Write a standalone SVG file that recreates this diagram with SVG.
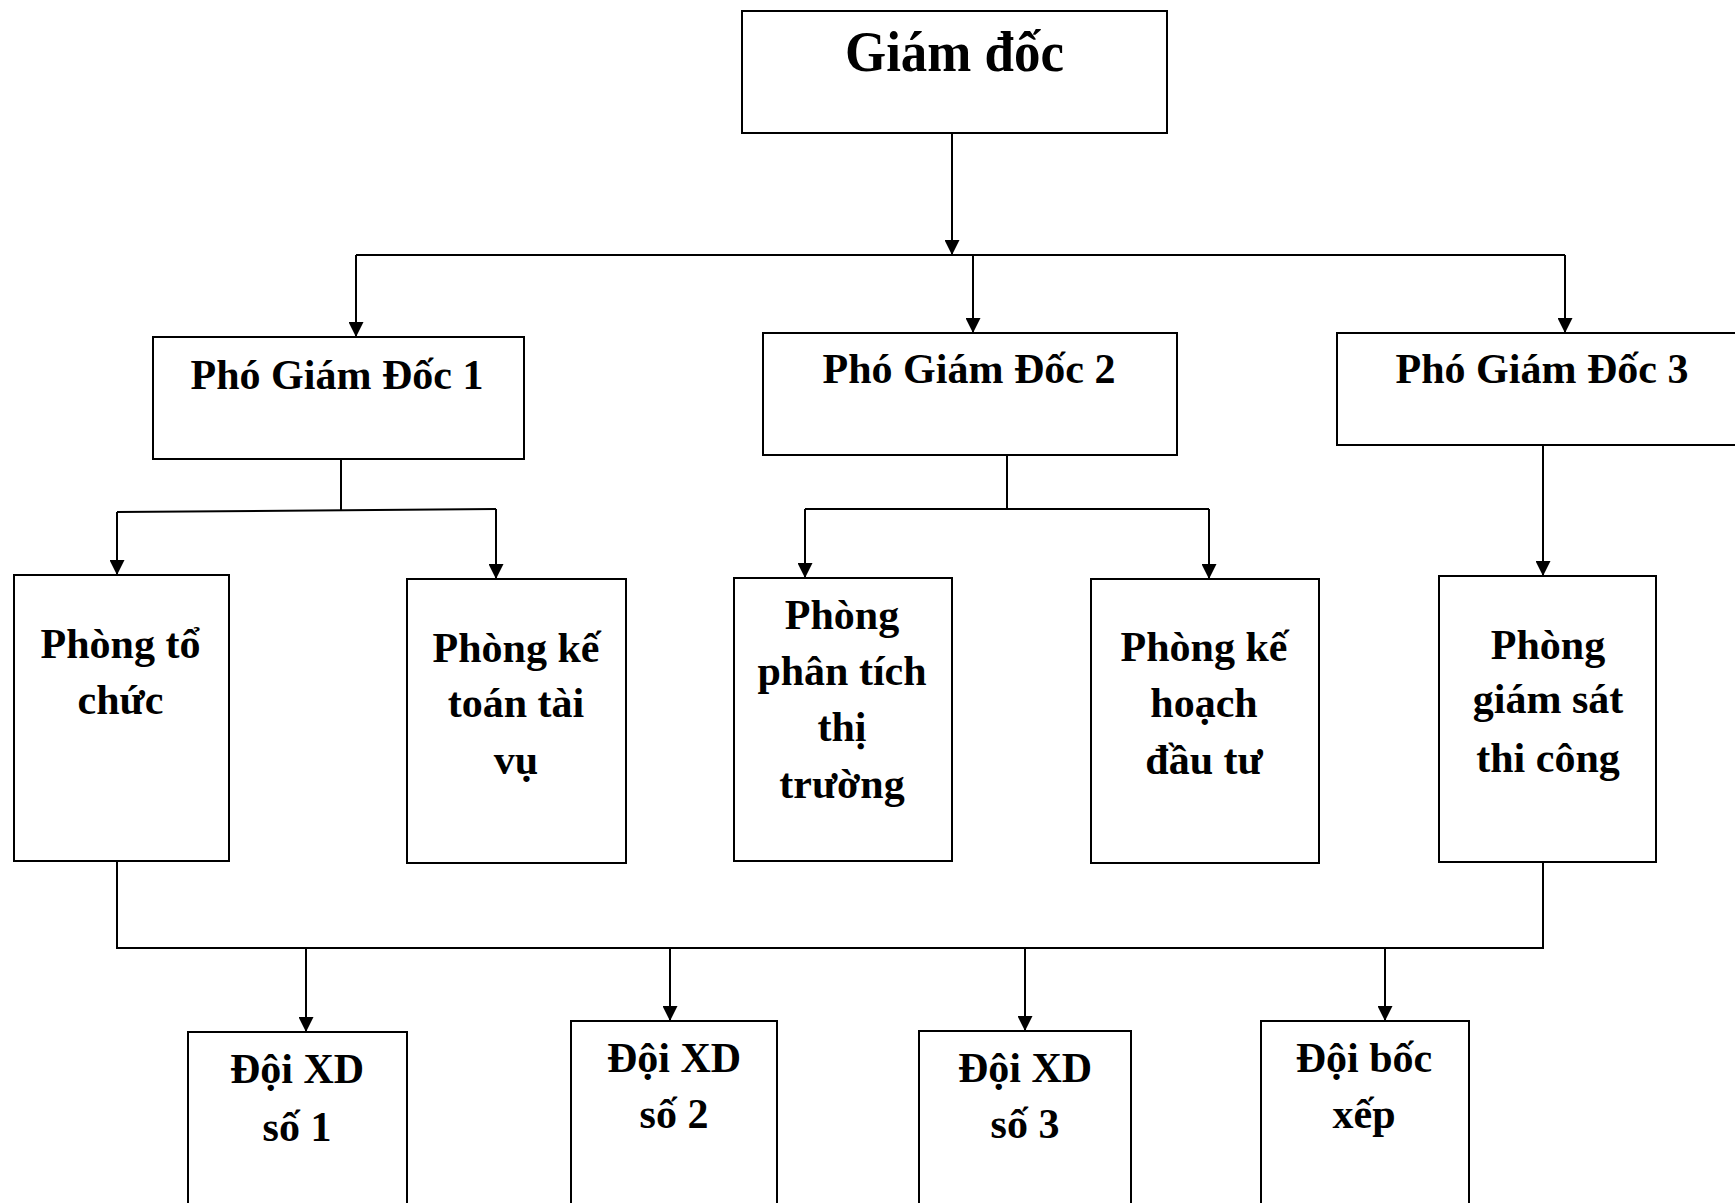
<svg xmlns="http://www.w3.org/2000/svg" width="1735" height="1203" viewBox="0 0 1735 1203">
<style>
.box{fill:#fff;stroke:#000;stroke-width:2}
.t{font-family:"Liberation Serif","Times New Roman",serif;font-weight:bold;font-size:42px;fill:#000;text-anchor:middle}
.c{fill:none;stroke:#000;stroke-width:2}
</style>
<defs>
<marker id="ah" markerUnits="userSpaceOnUse" markerWidth="15" markerHeight="15" refX="15" refY="7.5" orient="auto" viewBox="0 0 15 15">
<path d="M0,0 L15,7.5 L0,15 z" fill="#000"/>
</marker>
</defs>
<rect width="1735" height="1203" fill="#fff"/>
<g id="connectors">
<path class="c" d="M952,133 V255" marker-end="url(#ah)"/>
<path class="c" d="M356,255 H1565"/>
<path class="c" d="M356,255 V337" marker-end="url(#ah)"/>
<path class="c" d="M973,255 V333" marker-end="url(#ah)"/>
<path class="c" d="M1565,255 V333" marker-end="url(#ah)"/>
<path class="c" d="M341,459 V510"/>
<path class="c" d="M117,512 L496,509"/>
<path class="c" d="M117,512 V575" marker-end="url(#ah)"/>
<path class="c" d="M496,509 V579" marker-end="url(#ah)"/>
<path class="c" d="M1007,455 V509"/>
<path class="c" d="M805,509 H1209"/>
<path class="c" d="M805,509 V578" marker-end="url(#ah)"/>
<path class="c" d="M1209,509 V579" marker-end="url(#ah)"/>
<path class="c" d="M1543,445 V576" marker-end="url(#ah)"/>
<path class="c" d="M117,861 V948 H1543 V862"/>
<path class="c" d="M306,948 V1032" marker-end="url(#ah)"/>
<path class="c" d="M670,948 V1021" marker-end="url(#ah)"/>
<path class="c" d="M1025,948 V1031" marker-end="url(#ah)"/>
<path class="c" d="M1385,948 V1021" marker-end="url(#ah)"/>
</g>
<g id="giam-doc">
<rect class="box" x="742" y="11" width="425" height="122"/>
<text class="t" x="954.5" y="71" style="font-size:58px" textLength="219" lengthAdjust="spacingAndGlyphs">Giám đốc</text>
</g>
<g id="pgd1">
<rect class="box" x="153" y="337" width="371" height="122"/>
<text class="t" x="337" y="389">Phó Giám Đốc 1</text>
</g>
<g id="pgd2">
<rect class="box" x="763" y="333" width="414" height="122"/>
<text class="t" x="969" y="383">Phó Giám Đốc 2</text>
</g>
<g id="pgd3">
<rect class="box" x="1337" y="333" width="410" height="112"/>
<text class="t" x="1542" y="383">Phó Giám Đốc 3</text>
</g>
<g id="phong-to-chuc">
<rect class="box" x="14" y="575" width="215" height="286"/>
<text class="t" x="120.5" y="658">Phòng tổ</text>
<text class="t" x="120.5" y="714">chức</text>
</g>
<g id="phong-ke-toan">
<rect class="box" x="407" y="579" width="219" height="284"/>
<text class="t" x="516" y="662">Phòng kế</text>
<text class="t" x="516" y="717">toán tài</text>
<text class="t" x="516" y="774">vụ</text>
</g>
<g id="phong-phan-tich">
<rect class="box" x="734" y="578" width="218" height="283"/>
<text class="t" x="842" y="629">Phòng</text>
<text class="t" x="842" y="685">phân tích</text>
<text class="t" x="842" y="741">thị</text>
<text class="t" x="842" y="798">trường</text>
</g>
<g id="phong-ke-hoach">
<rect class="box" x="1091" y="579" width="228" height="284"/>
<text class="t" x="1204" y="661">Phòng kế</text>
<text class="t" x="1204" y="717">hoạch</text>
<text class="t" x="1204" y="774">đầu tư</text>
</g>
<g id="phong-giam-sat">
<rect class="box" x="1439" y="576" width="217" height="286"/>
<text class="t" x="1548" y="659">Phòng</text>
<text class="t" x="1548" y="713">giám sát</text>
<text class="t" x="1548" y="772">thi công</text>
</g>
<g id="doi-xd-1">
<rect class="box" x="188" y="1032" width="219" height="200"/>
<text class="t" x="297" y="1083">Đội XD</text>
<text class="t" x="297" y="1141">số 1</text>
</g>
<g id="doi-xd-2">
<rect class="box" x="571" y="1021" width="206" height="210"/>
<text class="t" x="674" y="1072">Đội XD</text>
<text class="t" x="674" y="1128">số 2</text>
</g>
<g id="doi-xd-3">
<rect class="box" x="919" y="1031" width="212" height="200"/>
<text class="t" x="1025" y="1082">Đội XD</text>
<text class="t" x="1025" y="1138">số 3</text>
</g>
<g id="doi-boc-xep">
<rect class="box" x="1261" y="1021" width="208" height="210"/>
<text class="t" x="1364" y="1072">Đội bốc</text>
<text class="t" x="1364" y="1128">xếp</text>
</g>
</svg>
